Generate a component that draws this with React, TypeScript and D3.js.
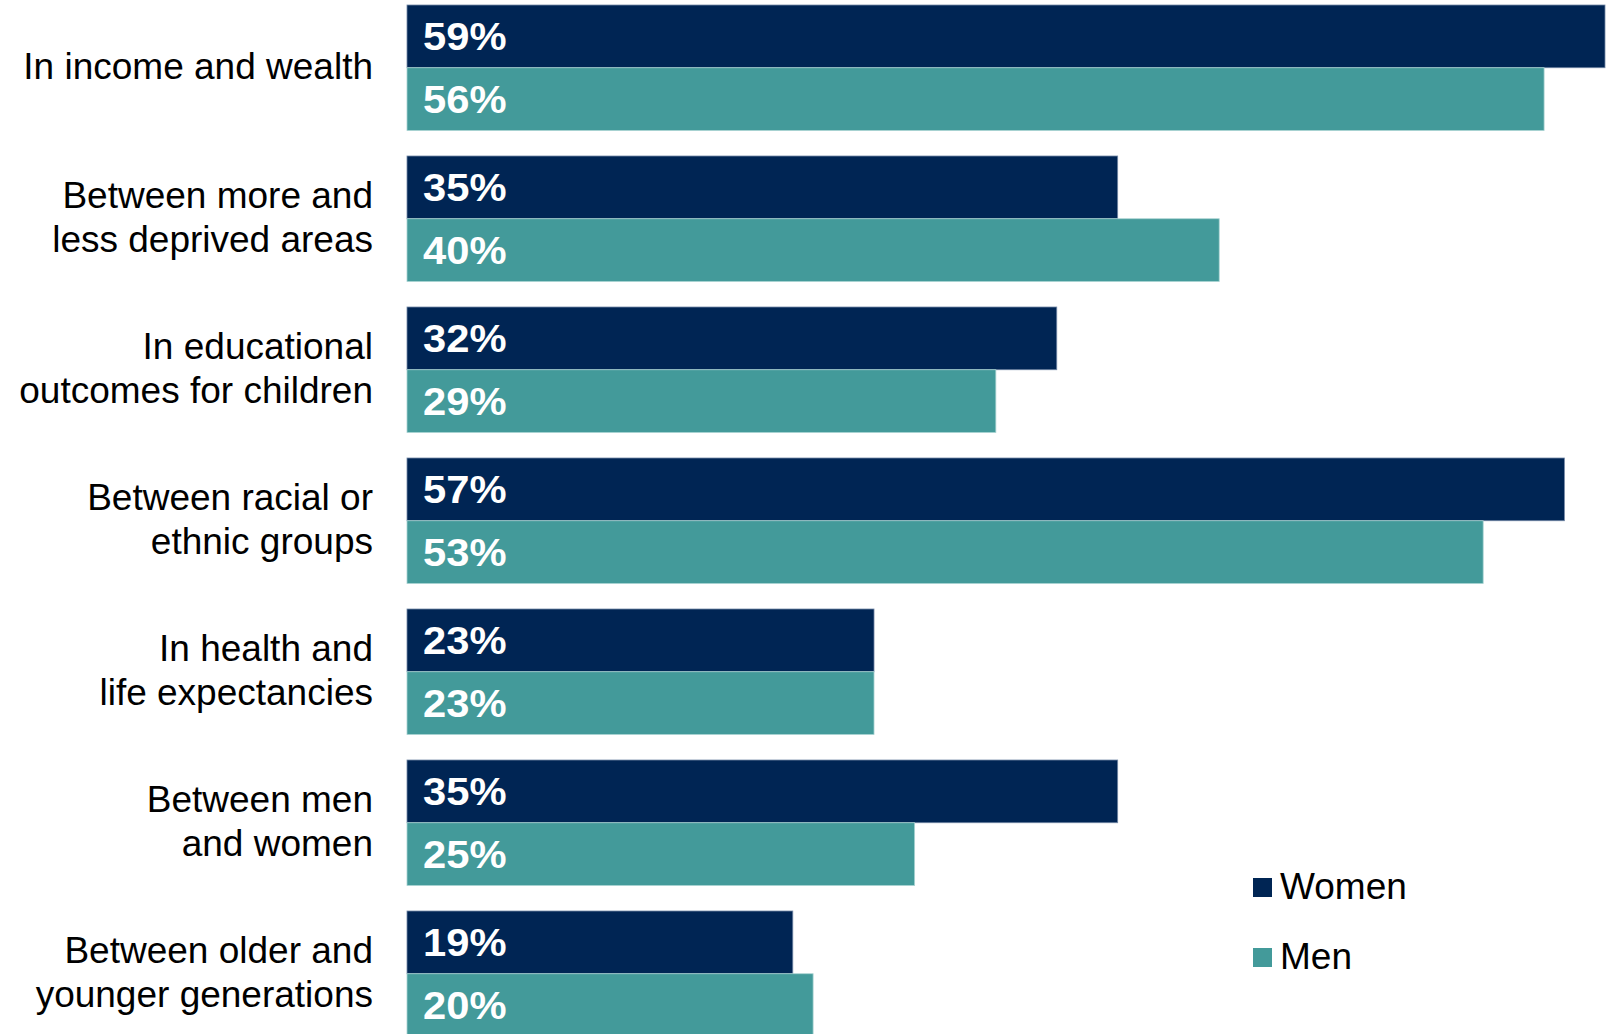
import React from "react";
import * as d3 from "d3";

const categories: string[][] = [
  ["In income and wealth"],
  ["Between more and", "less deprived areas"],
  ["In educational", "outcomes for children"],
  ["Between racial or", "ethnic groups"],
  ["In health and", "life expectancies"],
  ["Between men", "and women"],
  ["Between older and", "younger generations"],
];
const seriesNames = ["Women", "Men"];
const womenValues = [59, 35, 32, 57, 23, 35, 19];
const menValues = [56, 40, 29, 53, 23, 25, 20];
const colors = ["#002554", "#439A9A"];
const edgeColors = ["#7388a6", "#a9d3d2"];

const W = 1619;
const H = 1034;

export default function App() {
  const keys = categories.map((c) => c.join(" "));
  const step = 151;
  const pad = 0.169;
  const y0 = d3
    .scaleBand<string>()
    .domain(keys)
    .range([5, 5 + step * (keys.length - pad)])
    .paddingInner(pad)
    .paddingOuter(0);
  const y1 = d3.scaleBand<string>().domain(seriesNames).range([0, y0.bandwidth()]);
  const x = d3.scaleLinear().domain([0, 59]).range([407, 1605]);
  const series = [womenValues, menValues];
  const labelFont = "'Liberation Sans', Arial, Helvetica, sans-serif";
  const valFS = 39;
  const stretch = 1.07;

  return (
    <svg
      width={W}
      height={H}
      style={{ position: "absolute", left: 0, top: 0, background: "#fff" }}
      fontFamily={labelFont}
    >
      {keys.map((k, i) => {
        const gTop = y0(k)!;
        const center = gTop + y0.bandwidth() / 2;
        const lines = categories[i];
        const lh = 43.5;
        return (
          <g key={k}>
            {seriesNames.map((s, j) => {
              const v = series[j][i];
              const by = gTop + y1(s)!;
              const bh = y1.bandwidth();
              const tx = 423;
              const ty = by + bh / 2 + 13.5;
              return (
                <g key={s}>
                  <rect
                    x={x(0)}
                    y={by}
                    width={x(v) - x(0)}
                    height={bh}
                    fill={colors[j]}
                    stroke={edgeColors[j]}
                    strokeWidth={0.8}
                  />
                  <text
                    transform={`translate(${tx},${ty}) scale(${stretch},1)`}
                    fontSize={valFS}
                    fontWeight="bold"
                    fill="#ffffff"
                  >
                    {v}%
                  </text>
                </g>
              );
            })}
            {lines.map((ln, li) => (
              <text
                key={li}
                x={373}
                y={center + (li - (lines.length - 1) / 2) * lh + 11.5}
                textAnchor="end"
                fontSize={37}
                fill="#000"
              >
                {ln}
              </text>
            ))}
          </g>
        );
      })}
      {seriesNames.map((s, j) => (
        <g key={s} transform={`translate(1253,${878 + j * 70})`}>
          <rect width={19} height={19} fill={colors[j]} />
          <text x={27} y={21} fontSize={37} fill="#000">
            {s}
          </text>
        </g>
      ))}
    </svg>
  );
}
